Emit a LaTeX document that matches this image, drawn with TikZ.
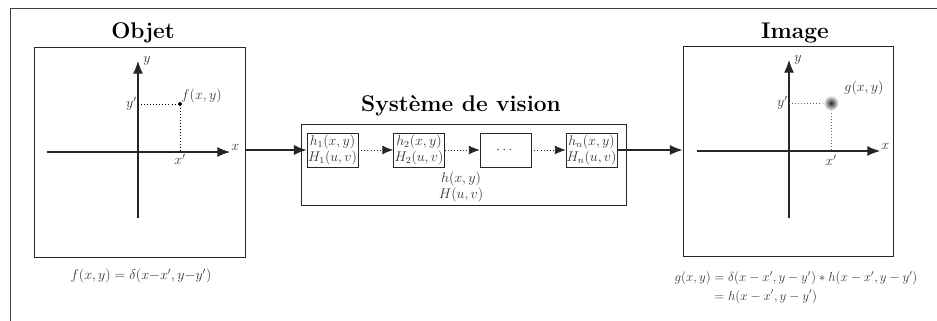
\documentclass[tikz,border=0pt]{standalone}
\usepackage{amsmath, amsfonts, amssymb}
\usetikzlibrary{arrows.meta, calc}

\tikzset{
    cadre/.style={draw, line width=0.8pt, black!85, inner sep=0pt},
    bloc/.style={draw, line width=0.6pt, black!85, inner sep=0pt,
        minimum width=1.53cm, minimum height=1.02cm, align=center,
        font=\large, text=black!80},
    titre/.style={font=\LARGE\bfseries, scale=1.12},
    axe/.style={line width=0.9pt, black!85, -{Latex[length=3.8mm, width=3mm]}},
    etiquette/.style={font=\large, text=black!80, inner sep=1pt},
    fleche/.style={line width=0.9pt, black!85, -{Latex[length=3.8mm, width=3mm]}},
    pointille/.style={dotted, line width=0.6pt, black!85,
        -{Latex[length=3.2mm, width=2.6mm]}}
}

\begin{document}
\begin{tikzpicture}[x=0.03cm, y=-0.03cm]

    \useasboundingbox (0,0) rectangle (937,321);

    % Outer frame (only top and left sides are visible)
    \draw[line width=0.8pt, black!75] (10,321) -- (10,8) -- (937,8);

    % Object plane
    \node[cadre, minimum width=6.33cm, minimum height=6.3cm] (objet) at (139.5,152) {};
    \node[titre] (tobjet) at (143,33) {Objet};

    % Axes of the object plane
    \coordinate (ox0) at (47,152);
    \coordinate (ox1) at (230,152);
    \coordinate (oy0) at (138,218);
    \coordinate (oy1) at (138,61);
    \draw[axe] (ox0) -- (ox1);
    \draw[axe] (oy0) -- (oy1);
    \node[etiquette, anchor=south west] at (ox1) {$x$};
    \node[etiquette, anchor=west] at ($(oy1)+(4,0)$) {$y$};

    % The point source
    \coordinate (P) at (180,104);
    \draw[dotted, line width=0.6pt] (138,104) -- (P) -- (180,152);
    \filldraw[black] (P) circle (1.5pt);
    \node[etiquette, anchor=south west] (fxy) at (P) {$f(x,y)$};
    \node[etiquette, anchor=east] at (138,104) {$y'$};
    \node[etiquette, anchor=north] at (180,153) {$x'$};

    % Formula of the object
    \node[etiquette] (fobjet) at (141,276) {$f(x,y) = \delta(x{-}x',y{-}y')$};

    % Vision system
    \node[cadre, minimum width=9.75cm, minimum height=2.43cm] (systeme) at (463.5,164.5) {};
    \node[titre] (tsysteme) at (461,106) {Système de vision};

    % Stages of the system
    \node[bloc] (h1) at (332.5,150) {$h_1(x,y)$\\$H_1(u,v)$};
    \node[bloc] (h2) at (419,150) {$h_2(x,y)$\\$H_2(u,v)$};
    \node[bloc] (hd) at (505.5,150) {$\cdots$};
    \node[bloc] (hn) at (591.5,150) {$h_n(x,y)$\\$H_n(u,v)$};

    \draw[pointille] (h1) -- (h2);
    \draw[pointille] (h2) -- (hd);
    \draw[pointille] (hd) -- (hn);

    \node[etiquette, align=center] (hxy) at (461,187) {$h(x,y)$\\$H(u,v)$};

    % Image plane
    \node[cadre, minimum width=6.3cm, minimum height=6.3cm] (image) at (788,151) {};
    \node[titre] (timage) at (795,33) {Image};

    % Connections between the planes
    \draw[fleche] (objet.east |- h1.west) -- (h1.west);
    \draw[fleche] (hn.east) -- (image.west |- hn.east);

    % Axes of the image plane
    \coordinate (ix0) at (697,151);
    \coordinate (ix1) at (880,151);
    \coordinate (iy0) at (789,218);
    \coordinate (iy1) at (789,60);
    \draw[axe] (ix0) -- (ix1);
    \draw[axe] (iy0) -- (iy1);
    \node[etiquette, anchor=south west] at (ix1) {$x$};
    \node[etiquette, anchor=west] at ($(iy1)+(4,0)$) {$y$};

    % The blurred spot
    \coordinate (Q) at (831,103);
    \draw[dotted, line width=0.6pt, black!60] (789,103) -- (Q) -- (831,151);
    \shade[inner color=black!85, outer color=white] (Q) circle (0.23cm);
    \node[etiquette, anchor=south west] (gxy) at (843,96) {$g(x,y)$};
    \node[etiquette, anchor=east] at (789,103) {$y'$};
    \node[etiquette, anchor=north] at (831,154) {$x'$};

    % Formula of the image
    \node[etiquette, scale=0.93] (fimage) at (796,288) {$\begin{aligned}
        g(x,y) &= \delta(x-x',y-y') * h(x-x',y-y')\\
               &= h(x-x',y-y')
    \end{aligned}$};

\end{tikzpicture}
\end{document}
